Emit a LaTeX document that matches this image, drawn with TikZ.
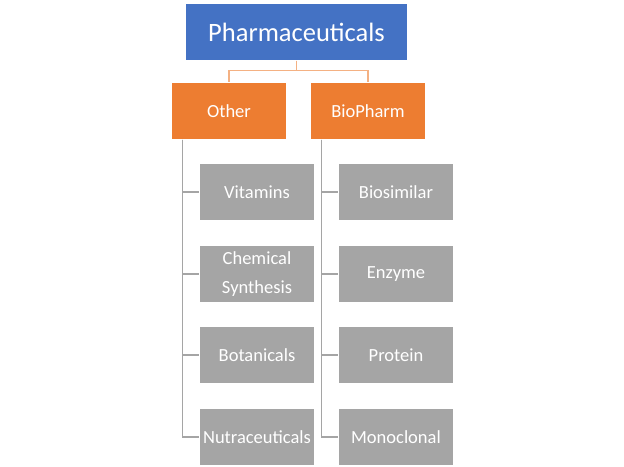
\documentclass[tikz,border=0pt]{standalone}
\usepackage{fontspec}
\setmainfont{Carlito}
\definecolor{pharmablue}{HTML}{4472C4}
\definecolor{grouporange}{HTML}{ED7D31}
\definecolor{itemgrey}{HTML}{A5A5A5}
\definecolor{orangeline}{HTML}{F4B183}

\begin{document}
\begin{tikzpicture}[x=1pt, y=-1pt, line width=1.2pt,
    box/.style={inner sep=0pt, text=white, minimum height=56pt},
    topbox/.style={box, fill=pharmablue, minimum width=221pt, font=\fontsize{26.5}{30}\selectfont},
    groupbox/.style={box, fill=grouporange, minimum width=114pt, font=\fontsize{18.5}{22}\selectfont},
    itembox/.style={box, fill=itemgrey, minimum width=114pt, align=center, font=\fontsize{18.5}{29}\selectfont},
    orangelink/.style={draw=orangeline},
    greylink/.style={draw=itemgrey}]
  \useasboundingbox (0,0) rectangle (624,466);
  % top level
  \node[topbox] (pharma) at (296.5,32) {Pharmaceuticals};
  % groups
  \node[groupbox] (other) at (229,111) {Other};
  \node[groupbox] (bio) at (368,111) {BioPharm};
  \draw[orangelink] (pharma.south) -- ++(0,10) -| (other.north);
  \draw[orangelink] (pharma.south) -- ++(0,10) -| (bio.north);
  % items
  \node[itembox] (vit) at (257,192) {Vitamins};
  \node[itembox] (chem) at (257,274) {Chemical\\Synthesis};
  \node[itembox] (bot) at (257,355) {Botanicals};
  \node[itembox] (nutra) at (257,437) {Nutraceuticals};
  \node[itembox] (biosim) at (396,192) {Biosimilar};
  \node[itembox] (enz) at (396,274) {Enzyme};
  \node[itembox] (prot) at (396,355) {Protein};
  \node[itembox] (mono) at (396,437) {Monoclonal};
  \foreach \item in {vit, chem, bot, nutra}
    \draw[greylink] ([xshift=11pt]other.south west) |- (\item.west);
  \foreach \item in {biosim, enz, prot, mono}
    \draw[greylink] ([xshift=11pt]bio.south west) |- (\item.west);
\end{tikzpicture}
\end{document}
